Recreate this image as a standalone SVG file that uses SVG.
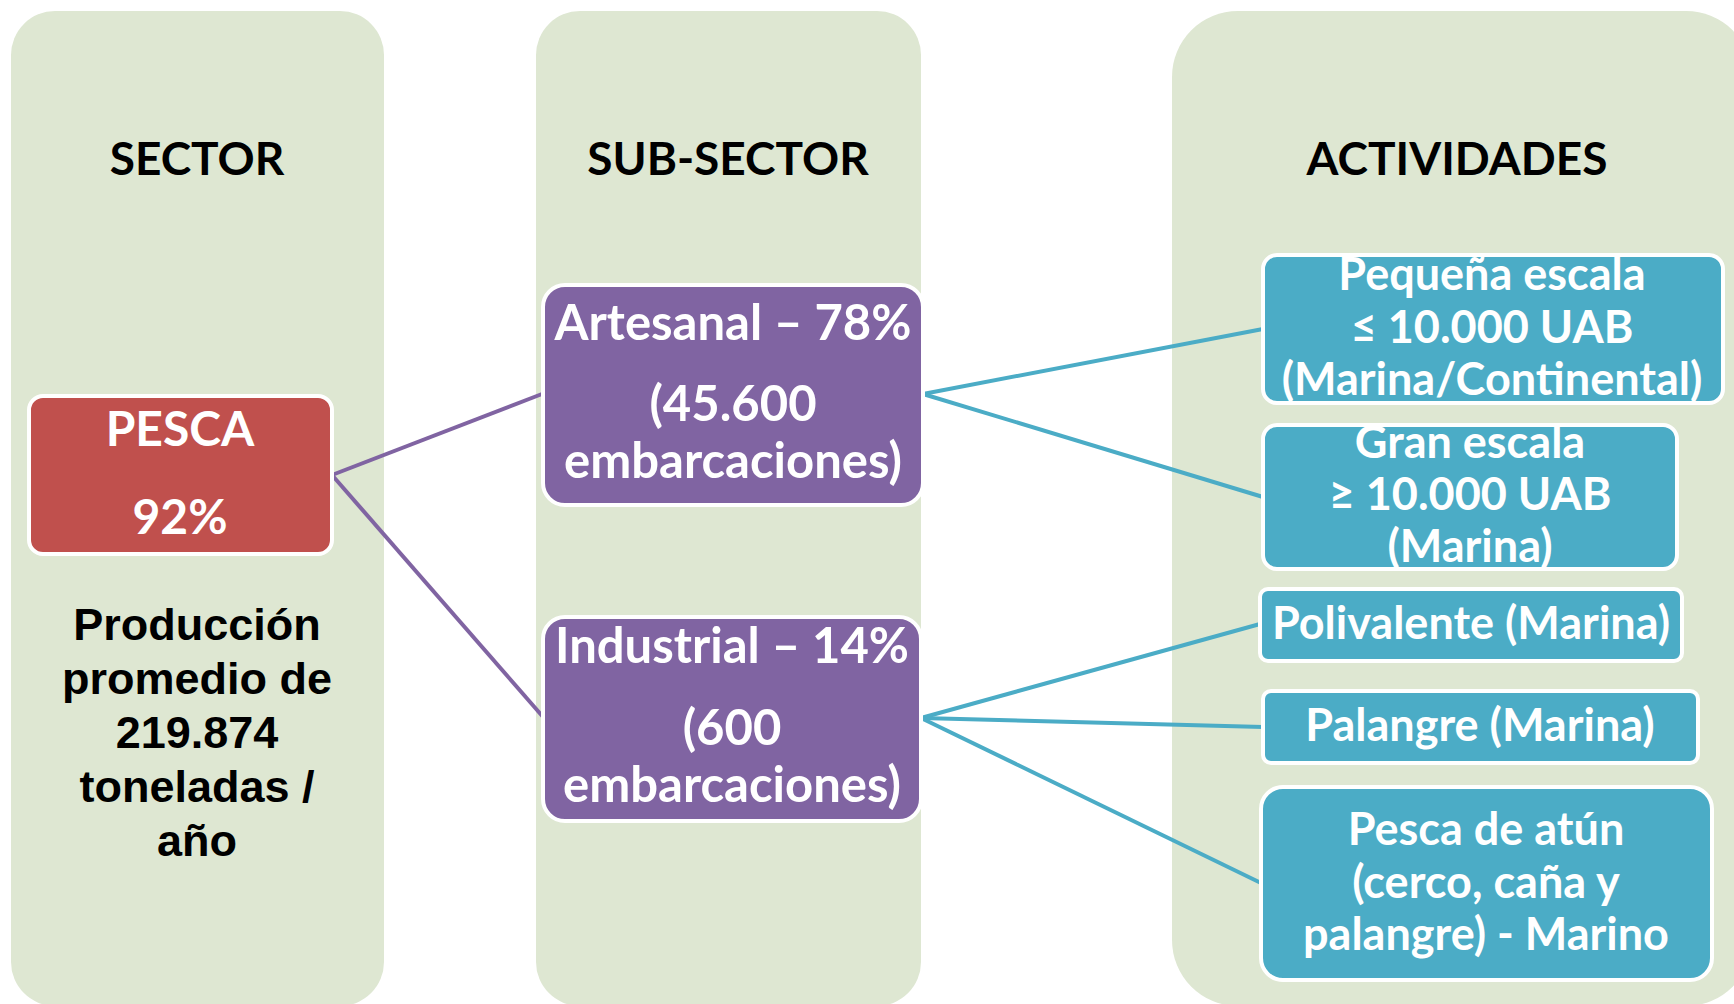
<svg xmlns="http://www.w3.org/2000/svg" width="1734" height="1004" viewBox="0 0 1734 1004">
  <style>
    .panel { fill: #DEE7D2; }
    .hdr { font-family: Lato, "Liberation Sans", sans-serif; font-weight: bold; font-size: 46px; fill: #000; text-anchor: middle; }
    .wt { font-family: Lato, "Liberation Sans", sans-serif; font-weight: bold; fill: #fff; text-anchor: middle; }
    .sub { font-size: 49px; }
    .act { font-size: 45px; }
    .big { font-size: 48px; }
    .prod { font-family: "Liberation Sans", Arial, sans-serif; font-weight: bold; font-size: 45px; fill: #000; text-anchor: middle; }
    .box { stroke: #fff; stroke-width: 4; }
    .red { fill: #C0504D; }
    .pur { fill: #8064A2; }
    .cyn { fill: #4BACC6; }
    .lp { stroke: #8064A2; stroke-width: 4; fill: none; }
    .lc { stroke: #4BACC6; stroke-width: 4; fill: none; }
  </style>
  <rect width="1734" height="1004" fill="#fff"/>

  <g id="panels">
    <rect class="panel" x="11" y="11" width="373" height="995" rx="44"/>
    <rect class="panel" x="536" y="11" width="385" height="995" rx="44"/>
    <rect class="panel" x="1172" y="11" width="580" height="995" rx="66"/>
    <text class="hdr" x="197" y="175">SECTOR</text>
    <text class="hdr" x="728" y="175">SUB-SECTOR</text>
    <text class="hdr" x="1457" y="175">ACTIVIDADES</text>
  </g>

  <g id="connectors">
    <line class="lp" x1="332" y1="475" x2="542" y2="394"/>
    <line class="lp" x1="332" y1="475" x2="544" y2="718"/>
    <line class="lc" x1="923" y1="394" x2="1263" y2="329"/>
    <line class="lc" x1="923" y1="394" x2="1263" y2="497"/>
    <line class="lc" x1="921" y1="718" x2="1260" y2="624"/>
    <line class="lc" x1="921" y1="718" x2="1263" y2="727"/>
    <line class="lc" x1="921" y1="718" x2="1261" y2="883"/>
  </g>

  <g id="pesca">
    <rect class="box red" x="29" y="396" width="303" height="158" rx="14"/>
    <text class="wt big" x="180" y="446">PESCA</text>
    <text class="wt big" x="180" y="534">92%</text>
  </g>

  <g id="produccion">
    <text class="prod" x="197" y="640">Producción</text>
    <text class="prod" x="197" y="694">promedio de</text>
    <text class="prod" x="197" y="748">219.874</text>
    <text class="prod" x="197" y="802">toneladas /</text>
    <text class="prod" x="197" y="856">año</text>
  </g>

  <g id="artesanal">
    <rect class="box pur" x="543" y="285" width="380" height="220" rx="22"/>
    <text class="wt sub" x="733" y="340">Artesanal – 78%</text>
    <text class="wt sub" x="733" y="421">(45.600</text>
    <text class="wt sub" x="733" y="478">embarcaciones)</text>
  </g>

  <g id="industrial">
    <rect class="box pur" x="543" y="617" width="378" height="204" rx="22"/>
    <text class="wt sub" x="732" y="663">Industrial – 14%</text>
    <text class="wt sub" x="732" y="745">(600</text>
    <text class="wt sub" x="732" y="802">embarcaciones)</text>
  </g>

  <g id="pequena">
    <rect class="box cyn" x="1263" y="255" width="460" height="148" rx="14"/>
    <text class="wt act" x="1492" y="290">Pequeña escala</text>
    <text class="wt act" x="1492" y="343">≤ 10.000 UAB</text>
    <text class="wt act" x="1492" y="395">(Marina/Continental)</text>
  </g>

  <g id="gran">
    <rect class="box cyn" x="1263" y="425" width="414" height="144" rx="14"/>
    <text class="wt act" x="1470" y="458">Gran escala</text>
    <text class="wt act" x="1470" y="510">≥ 10.000 UAB</text>
    <text class="wt act" x="1470" y="562">(Marina)</text>
  </g>

  <g id="polivalente">
    <rect class="box cyn" x="1260" y="589" width="422" height="72" rx="8"/>
    <text class="wt act" x="1471" y="639">Polivalente (Marina)</text>
  </g>

  <g id="palangre">
    <rect class="box cyn" x="1263" y="691" width="435" height="72" rx="8"/>
    <text class="wt act" x="1480" y="741">Palangre (Marina)</text>
  </g>

  <g id="atun">
    <rect class="box cyn" x="1261" y="787" width="451" height="193" rx="22"/>
    <text class="wt act" x="1486" y="845">Pesca de atún</text>
    <text class="wt act" x="1486" y="898">(cerco, caña y</text>
    <text class="wt act" x="1486" y="950">palangre) - Marino</text>
  </g>
</svg>
